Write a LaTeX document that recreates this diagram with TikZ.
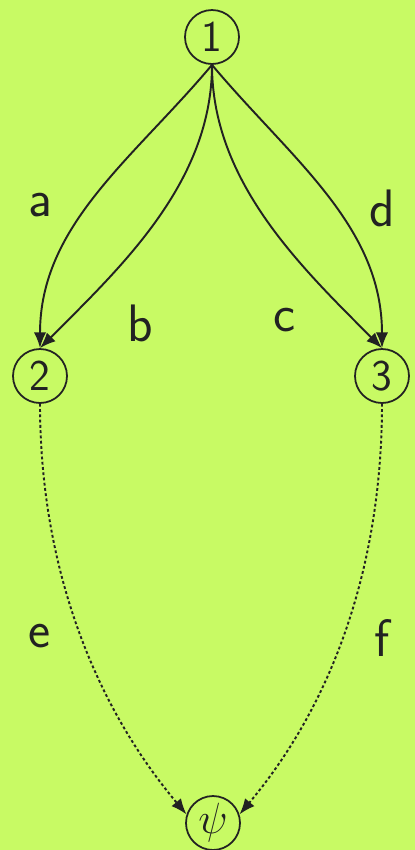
\documentclass[tikz,border=0pt]{standalone}
\usepackage{xcolor}
\usepackage{tikz}
\usetikzlibrary{arrows.meta,positioning}
\definecolor{graphbg}{HTML}{C8FA64}
\definecolor{graphink}{HTML}{222222}

\begin{document}
\begin{tikzpicture}[x=0.02cm,y=0.02cm,font=\sffamily\fontsize{25}{30}\selectfont,
  vertex/.style={draw=graphink,circle,line width=1pt,minimum size=1.08cm,inner sep=0pt,text=graphink},
  edge/.style={draw=graphink,line width=1.1pt,-{Latex[length=9pt,width=7pt]}},
  dotedge/.style={edge,dash pattern=on 1.6pt off 1.4pt},
  tag/.style={text=graphink,font=\sffamily\fontsize{30}{36}\selectfont}]
  \fill[graphbg] (0,0) rectangle (415,-850);
  \useasboundingbox (0,0) rectangle (415,-850);
  \node[vertex] (n1) at (212,-37) {1};
  \node[vertex] (n2) at (40,-376) {2};
  \node[vertex] (n3) at (382,-376) {3};
  \node[vertex] (npsi) at (213,-823) {$\psi$};
  \draw[edge] (n1.south) to[out=-130,in=90,looseness=0.95] (n2.north);
  \draw[edge] (n1.south) to[out=-90,in=45,looseness=0.9] (n2.north);
  \draw[edge] (n1.south) to[out=-90,in=135,looseness=0.9] (n3.north);
  \draw[edge] (n1.south) to[out=-50,in=90,looseness=0.95] (n3.north);
  \draw[dotedge] (n2.south) to[out=-90,in=130,looseness=0.9] (npsi.162);
  \draw[dotedge] (n3.south) to[out=-90,in=50,looseness=0.9] (npsi.18);
  \node[tag] (la) at (40,-205) {a};
  \node[tag] (lb) at (140,-323) {b};
  \node[tag] (lc) at (285,-320) {c};
  \node[tag] (ld) at (382,-208) {d};
  \node[tag] (le) at (40,-636) {e};
  \node[tag] (lf) at (382,-638) {f};
\end{tikzpicture}
\end{document}
